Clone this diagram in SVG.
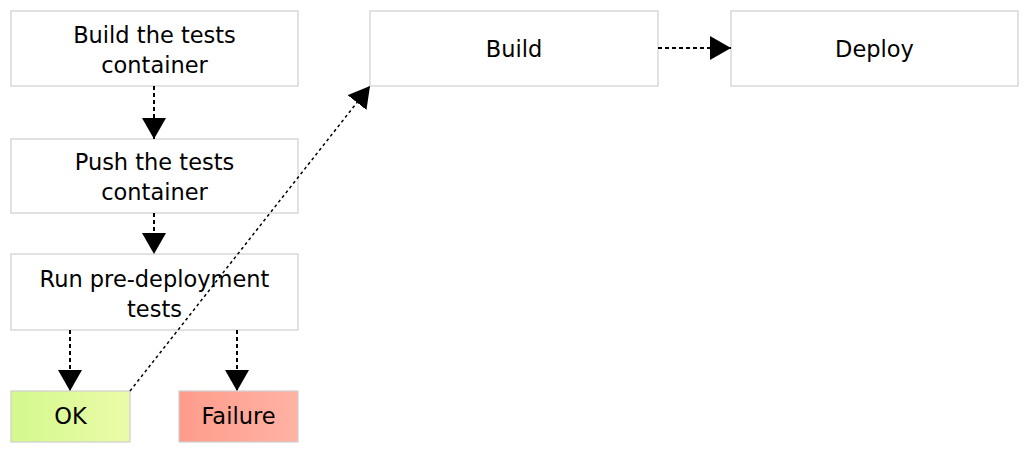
<svg xmlns="http://www.w3.org/2000/svg" width="1030" height="454" viewBox="0 0 1030 454">
  <style>
    .box { fill: #ffffff; stroke: #cfcfcf; stroke-width: 1.2; }
    .lbl { font-family: "DejaVu Sans", "Liberation Sans", sans-serif; font-size: 22.5px; fill: #000000; text-anchor: middle; }
    .flow { fill: none; stroke: #000000; stroke-width: 2; stroke-dasharray: 4 3; }
    .jump { fill: none; stroke: #000000; stroke-width: 1.5; stroke-dasharray: 3 3; }
  </style>
  <defs>
    <marker id="head" markerUnits="userSpaceOnUse" markerWidth="22" markerHeight="24" refX="21" refY="12" orient="auto" viewBox="0 0 22 24">
      <path d="M0,0 L21,12 L0,24 Z" fill="#000000"/>
    </marker>
    <linearGradient id="okFill" x1="0" y1="0" x2="1" y2="0">
      <stop offset="0" stop-color="#d4f88e"/>
      <stop offset="1" stop-color="#ebfba8"/>
    </linearGradient>
    <linearGradient id="failFill" x1="0" y1="0" x2="1" y2="0">
      <stop offset="0" stop-color="#ff9c8c"/>
      <stop offset="1" stop-color="#ffb2a3"/>
    </linearGradient>
  </defs>

  <g id="build-tests-container">
    <rect class="box" x="11" y="11" width="287" height="75"/>
    <text class="lbl" x="154.5" y="43">Build the tests</text>
    <text class="lbl" x="154.5" y="73">container</text>
  </g>

  <g id="push-tests-container">
    <rect class="box" x="11" y="139" width="287" height="74"/>
    <text class="lbl" x="154.5" y="170">Push the tests</text>
    <text class="lbl" x="154.5" y="200">container</text>
  </g>

  <g id="run-pre-deployment-tests">
    <rect class="box" x="11" y="254" width="287" height="76"/>
    <text class="lbl" x="154.5" y="287">Run pre-deployment</text>
    <text class="lbl" x="154.5" y="317">tests</text>
  </g>

  <g id="ok">
    <rect class="box" x="11" y="391" width="119" height="51" style="fill:url(#okFill)"/>
    <text class="lbl" x="70.5" y="424">OK</text>
  </g>

  <g id="failure">
    <rect class="box" x="179" y="391" width="119" height="51" style="fill:url(#failFill)"/>
    <text class="lbl" x="238.5" y="424">Failure</text>
  </g>

  <g id="build">
    <rect class="box" x="370" y="11" width="288" height="75"/>
    <text class="lbl" x="514" y="57">Build</text>
  </g>

  <g id="deploy">
    <rect class="box" x="731" y="11" width="287" height="75"/>
    <text class="lbl" x="874.5" y="57">Deploy</text>
  </g>

  <!-- connectors are drawn last so they sit on top of the boxes -->
  <g id="connectors">
    <line class="flow" x1="154" y1="86" x2="154" y2="139" marker-end="url(#head)"/>
    <line class="flow" x1="154" y1="213" x2="154" y2="254" marker-end="url(#head)"/>
    <line class="flow" x1="70" y1="330" x2="70" y2="391" marker-end="url(#head)"/>
    <line class="flow" x1="237" y1="330" x2="237" y2="391" marker-end="url(#head)"/>
    <line class="jump" x1="130" y1="391" x2="370" y2="86" marker-end="url(#head)"/>
    <line class="flow" x1="658" y1="48" x2="731" y2="48" marker-end="url(#head)"/>
  </g>
</svg>
